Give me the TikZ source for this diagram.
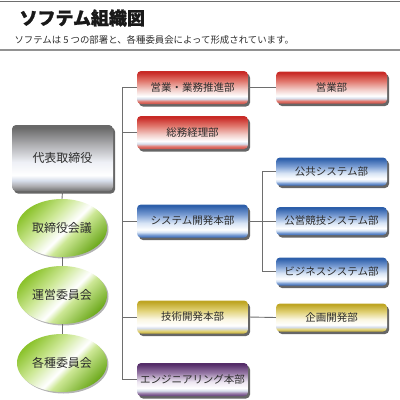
\documentclass[tikz,border=0pt]{standalone}
\usepackage{fontspec}
\setmainfont{Noto Sans CJK JP}
\newfontfamily\heavy{Noto Sans CJK JP}[BoldFeatures={FakeBold=1.2}]
\usepackage{tikz}
\usetikzlibrary{shapes.geometric,shadows}
\definecolor{ln}{RGB}{110,110,110}
\definecolor{txt}{RGB}{45,45,45}
\definecolor{rd0}{RGB}{200,42,38}
\definecolor{rd1}{RGB}{225,120,110}
\definecolor{rd2}{RGB}{242,205,200}
\definecolor{rd3}{RGB}{200,80,70}
\definecolor{bl0}{RGB}{45,95,170}
\definecolor{bl1}{RGB}{120,155,210}
\definecolor{bl2}{RGB}{215,228,245}
\definecolor{bl3}{RGB}{55,105,185}
\definecolor{ye0}{RGB}{190,165,35}
\definecolor{ye1}{RGB}{225,210,120}
\definecolor{ye2}{RGB}{250,246,225}
\definecolor{ye3}{RGB}{195,172,55}
\definecolor{pu0}{RGB}{85,45,105}
\definecolor{pu1}{RGB}{150,120,165}
\definecolor{pu2}{RGB}{235,228,240}
\definecolor{pu3}{RGB}{95,60,120}
\definecolor{gy0}{RGB}{105,105,105}
\definecolor{gy1}{RGB}{175,175,178}
\definecolor{gy2}{RGB}{238,240,246}
\definecolor{gy3}{RGB}{115,115,115}
\definecolor{gr1}{RGB}{140,195,45}
\definecolor{gr2}{RGB}{205,232,150}
\definecolor{gr3}{RGB}{240,248,225}
\definecolor{gr4}{RGB}{110,170,30}
\definecolor{band}{RGB}{215,222,235}
\pgfdeclareverticalshading{redbar}{100bp}{color(0bp)=(rd3); color(25bp)=(rd3); color(29bp)=(rd1); color(33bp)=(band); color(37bp)=(white); color(47bp)=(rd2); color(60bp)=(rd1); color(73bp)=(rd0); color(100bp)=(rd0)}
\pgfdeclareverticalshading{bluebar}{100bp}{color(0bp)=(bl3); color(25bp)=(bl3); color(29bp)=(bl1); color(33bp)=(bl2); color(37bp)=(white); color(47bp)=(bl2); color(60bp)=(bl1); color(73bp)=(bl0); color(100bp)=(bl0)}
\pgfdeclareverticalshading{yellowbar}{100bp}{color(0bp)=(ye3); color(25bp)=(ye3); color(29bp)=(ye1); color(33bp)=(band); color(37bp)=(white); color(47bp)=(ye2); color(60bp)=(ye1); color(73bp)=(ye0); color(100bp)=(ye0)}
\pgfdeclareverticalshading{purplebar}{100bp}{color(0bp)=(pu3); color(25bp)=(pu3); color(29bp)=(pu1); color(33bp)=(band); color(37bp)=(white); color(47bp)=(pu2); color(60bp)=(pu1); color(73bp)=(pu0); color(100bp)=(pu0)}
\pgfdeclareverticalshading{graybar}{100bp}{color(0bp)=(gy3); color(25bp)=(gy3); color(29bp)=(gy1); color(33bp)=(band); color(37bp)=(white); color(47bp)=(gy2); color(60bp)=(gy1); color(73bp)=(gy0); color(100bp)=(gy0)}
\pgfdeclarehorizontalshading{greenov}{100bp}{color(0bp)=(gr1); color(25bp)=(gr1); color(40bp)=(gr2); color(49bp)=(gr3); color(53bp)=(white); color(58bp)=(gr2); color(75bp)=(gr4); color(100bp)=(gr4)}

\begin{document}
\begin{tikzpicture}[x=1pt,y=-1pt,
box/.style={rectangle,rounded corners=4pt,minimum width=111pt,minimum height=33pt,inner sep=0pt,text=txt,font=\fontsize{10.5}{12}\selectfont,drop shadow={shadow xshift=2pt,shadow yshift=-2.5pt,fill=black!75,opacity=.8}},
sbox/.style={box,minimum height=28pt},
oval/.style={ellipse,minimum width=90pt,minimum height=58pt,inner sep=0pt,text=txt,shading=greenov,shading angle=-45,font=\fontsize{12}{14}\selectfont,drop shadow={shadow xshift=1.5pt,shadow yshift=-1.5pt,fill=black!50,opacity=.6}},
conn/.style={draw=ln,line width=.9pt}]
\useasboundingbox (0,0) rectangle (400,400);
\draw[ln,line width=1pt](0,1.5)--(400,1.5);
\draw[ln!75,line width=2pt](0,50)--(400,50);
\node[anchor=west,font=\fontsize{18}{20}\selectfont\heavy\bfseries,text=black!90] (title) at (16,18){ソフテム組織図};
\node[anchor=west,font=\fontsize{9.4}{11}\selectfont,text=txt] (sub) at (11,40){ソフテムは 5 つの部署と、各種委員会によって形成されています。};

\node[box,shading=graybar,minimum width=101pt,minimum height=66pt,font=\fontsize{12}{14}\selectfont] (rep) at (62.5,158){代表取締役};
\node[oval] (meet) at (62,228){取締役会議};
\node[oval] (unei) at (62,295){運営委員会};
\node[oval] (kakushu) at (62,363){各種委員会};

\node[box,shading=redbar] (eigyo) at (192.5,87.5){営業・業務推進部};
\node[box,shading=redbar] (somu) at (192.5,132.5){総務経理部};
\node[box,shading=bluebar] (sys) at (192.5,221){システム開発本部};
\node[box,shading=yellowbar] (gijutsu) at (192.5,317){技術開発本部};
\node[box,shading=purplebar] (eng) at (192.5,379.5){エンジニアリング本部};

\node[sbox,shading=redbar,minimum height=32pt] (eigyobu) at (331.5,87.5){営業部};
\node[sbox,shading=bluebar] (koukyo) at (331.5,171.5){公共システム部};
\node[sbox,shading=bluebar] (koei) at (331.5,221){公営競技システム部};
\node[sbox,shading=bluebar] (biz) at (331.5,271.5){ビジネスシステム部};
\node[sbox,shading=yellowbar] (kikaku) at (331.5,317.5){企画開発部};

\coordinate (tr) at (122,0);
\coordinate (tr2) at (262,0);
\draw[conn](rep.south)--(meet.north);
\draw[conn](meet.south)--(unei.north);
\draw[conn](unei.south)--(kakushu.north);
\draw[conn](eigyo.west)--(eigyo.west-|tr)|-(eng.west);
\foreach \n in {somu,sys,gijutsu}
\draw[conn](\n.west)--(\n.west-|tr);
\draw[conn](eigyo.east)--(eigyobu.west);
\draw[conn](gijutsu.east)--(kikaku.west);
\draw[conn](sys.east)--(koei.west);
\draw[conn](koukyo.west)--(koukyo.west-|tr2)|-(biz.west);
\end{tikzpicture}
\end{document}
